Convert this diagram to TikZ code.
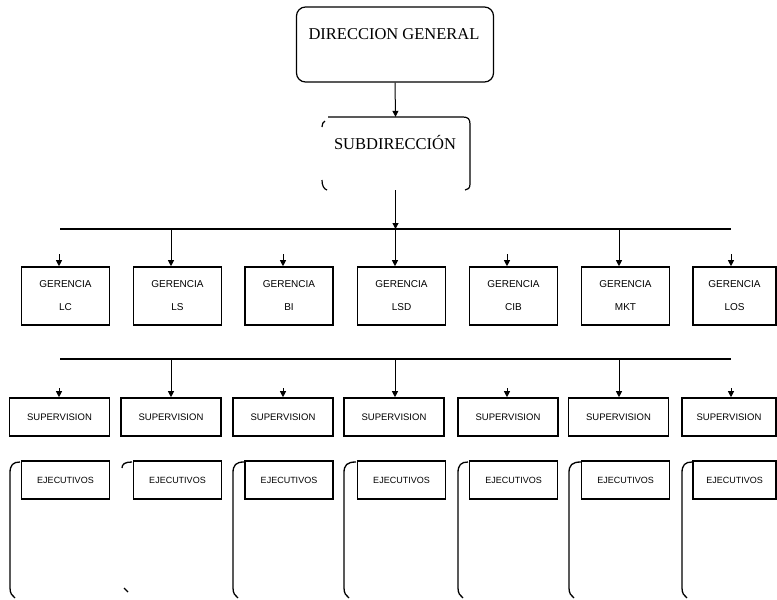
\documentclass[tikz,border=0pt]{standalone}
\usepackage{fontspec}
\setmainfont{Liberation Serif}
\newfontfamily\boxfont{Liberation Sans}
\usetikzlibrary{arrows.meta}
\begin{document}
\begin{tikzpicture}[x=1pt,y=-1pt,
  arr/.style={-{Triangle[length=6pt,width=6pt]}, line width=1pt},
  bus/.style={line width=2pt},
  gbox/.style={draw, line width=1.6pt, minimum width=88pt, minimum height=58pt, inner sep=0pt,
    font=\boxfont\fontsize{10}{23}\selectfont, align=center},
  sbox/.style={draw, line width=1.6pt, minimum width=100pt, minimum height=38pt, inner sep=0pt,
    font=\boxfont\fontsize{9.5}{10}\selectfont},
  ebox/.style={draw, line width=1.6pt, minimum width=88pt, minimum height=38pt, inner sep=0pt,
    font=\boxfont\fontsize{9}{10}\selectfont},
  frame/.style={line width=1.2pt},
  brk/.style={line width=1.3pt},
  title/.style={font=\fontsize{16.5}{18}\selectfont, inner sep=0pt},
]
\useasboundingbox (0,0) rectangle (777,600);

% top levels
\node[draw, frame, rounded corners=9pt, minimum width=197pt, minimum height=75pt, inner sep=0pt] (dg) at (395,44.5) {};
\node[title] (dgt) at (394,34) {DIRECCION GENERAL};
\node[minimum width=147pt, minimum height=73pt, inner sep=0pt] (sub) at (395.5,153.5) {};
\node[title] (subt) at (395,142) {SUBDIRECCIÓN};
% partial frame of subdireccion
\draw[frame] (328,117) -- (463,117) .. controls (468,117) and (470,119) .. (470,124) -- (470,184)
  .. controls (470,188) and (468,190) .. (465,190);
\draw[frame] (322,127) .. controls (322,124) and (323,122) .. (325,121);
\draw[frame] (322,180) .. controls (322,186) and (324,189) .. (327,190);

\draw[arr] (dg.south) -- (sub.north);

% bus lines
\coordinate (bl1) at (60,229);
\coordinate (br1) at (731,229);
\coordinate (bl2) at (60,359);
\coordinate (br2) at (731,359);
\draw[bus] (bl1) -- (br1);
\draw[bus] (bl2) -- (br2);
\draw[arr] (sub.south) -- (sub.south |- bl1);

% gerencias
\foreach \i/\cx/\w/\lab in {1/65.5/88/LC, 2/177.5/88/LS, 3/289/88/BI, 4/401.5/88/LSD, 5/513.5/88/CIB, 6/625.5/88/MKT, 7/734.5/83/LOS}{
  \node[gbox, minimum width=\w pt] (g\i) at (\cx,296) {GERENCIA\\\lab};
}
% supervision
\foreach \i/\cx/\w in {1/59.5/100, 2/171/100, 3/283/100, 4/394/100, 5/508/100, 6/618.5/100, 7/729/94}{
  \node[sbox, minimum width=\w pt] (s\i) at (\cx,417) {SUPERVISION};
}
% ejecutivos
\foreach \i/\cx/\w in {1/65.5/88, 2/177.5/88, 3/289/88, 4/401.5/88, 5/513.5/88, 6/625.5/88, 7/734.5/83}{
  \node[ebox, minimum width=\w pt] (e\i) at (\cx,480) {EJECUTIVOS};
}

% connectors
\foreach \i/\x in {2/171, 4/395, 6/619}{
  \coordinate (ta\i) at (\x,229);
  \coordinate (tb\i) at (\x,359);
  \draw[arr] (ta\i) -- (ta\i |- g\i.north);
  \draw[arr] (tb\i) -- (tb\i |- s\i.north);
}
\foreach \i/\x in {1/59, 3/283, 5/507, 7/731}{
  \coordinate (ua\i) at (\x,254);
  \coordinate (ub\i) at (\x,388);
  \draw[arr] (ua\i) -- (ua\i |- g\i.north);
  \draw[arr] (ub\i) -- (ub\i |- s\i.north);
}

% brackets
\foreach \xl/\xe in {10/20, 233/244, 344/356, 458/468, 569/581, 682/692}{
  \draw[brk] (\xe,462) .. controls (\xl+3,462) and (\xl,465) .. (\xl,473) -- (\xl,588)
    .. controls (\xl,593) and (\xl+2,596) .. (\xl+5,598);
}
\draw[brk] (132,462) .. controls (125,462) and (122,464) .. (122,468);
\draw[brk] (124,588) -- (128,592);
\end{tikzpicture}
\end{document}
